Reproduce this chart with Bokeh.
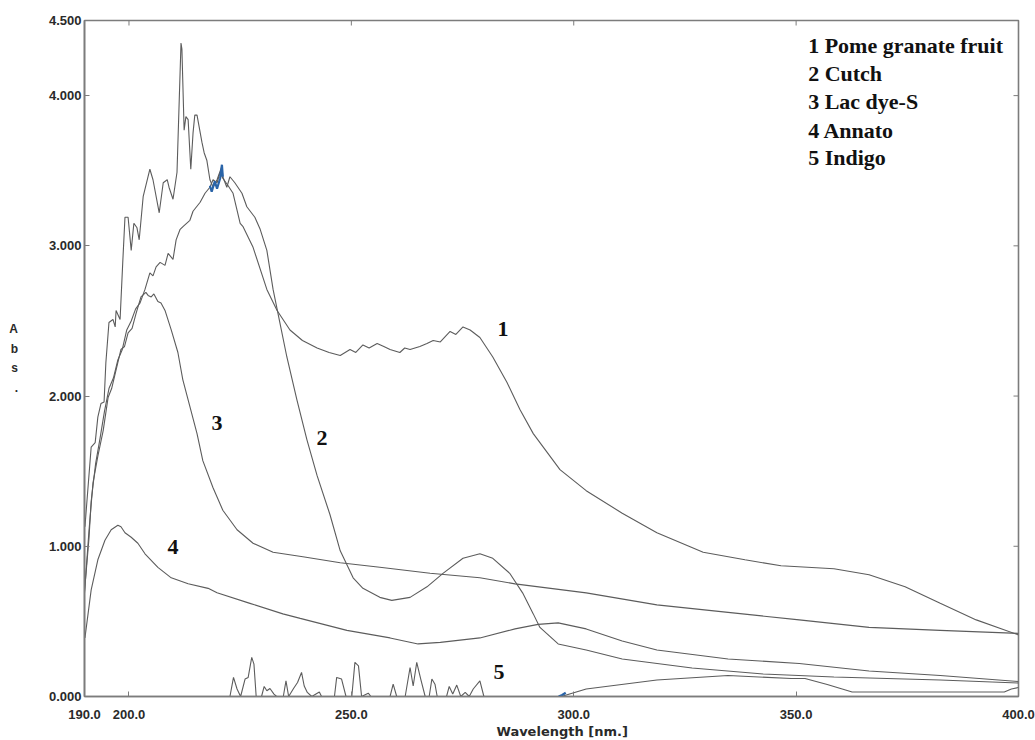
import math
from bokeh.plotting import figure
from bokeh.models import Range1d, FixedTicker, Title
from bokeh.embed import file_html
from bokeh.resources import INLINE
from bokeh.core.properties import value

# ---------------- data ----------------
x_ticks = [190, 200, 250, 300, 350, 400]
x_tick_labels = ["190.0", "200.0", "250.0", "300.0", "350.0", "400.0"]
y_ticks = [0, 1, 2, 3, 4, 4.5]
y_tick_labels = ["0.000", "1.000", "2.000", "3.000", "4.000", "4.500"]

# 1 Pome granate fruit
c1_x = [190.0, 191.0, 191.5, 192.5, 193.5, 194.5, 195.5, 196.5, 197.5, 198.5, 199.5, 200.5, 201.5, 202.5,
        203.6, 204.7, 205.4, 206.1, 207.0, 208.1, 208.8, 209.9, 210.6, 211.5, 212.2, 213.7, 214.4, 216.0,
        217.1, 218.2, 218.9, 219.8, 220.5, 221.1, 222.3, 223.4, 225.0, 225.6, 227.9, 231.0, 233.3, 236.2,
        239.0, 242.3, 245.0, 247.5, 249.7, 251.0, 252.6, 254.0, 255.8, 257.3, 258.7, 260.9, 262.0, 263.2,
        265.4, 267.0, 268.4, 270.0, 272.2, 273.5, 275.1, 276.7, 278.9, 281.8, 285.0, 287.9, 290.9, 296.9,
        302.8, 310.9, 318.7, 329.1, 338.5, 346.6, 358.5, 366.4, 374.5, 382.4, 390.5, 400.0]
c1_y = [0.70, 1.05, 1.30, 1.55, 1.72, 1.90, 2.05, 2.12, 2.24, 2.31, 2.44, 2.50, 2.58, 2.62,
        2.71, 2.82, 2.80, 2.86, 2.89, 2.87, 2.95, 2.91, 3.04, 3.11, 3.13, 3.17, 3.23, 3.29,
        3.35, 3.39, 3.44, 3.42, 3.49, 3.45, 3.40, 3.35, 3.15, 3.13, 2.99, 2.71, 2.57, 2.44,
        2.37, 2.32, 2.29, 2.27, 2.31, 2.29, 2.34, 2.32, 2.35, 2.33, 2.31, 2.29, 2.32, 2.31,
        2.33, 2.35, 2.37, 2.36, 2.43, 2.41, 2.46, 2.44, 2.39, 2.26, 2.09, 1.91, 1.75, 1.51,
        1.37, 1.22, 1.09, 0.96, 0.91, 0.87, 0.85, 0.81, 0.73, 0.62, 0.51, 0.41]

# 2 Cutch
c2_x = [190.1, 191.5, 192.4, 193.0, 193.7, 194.4, 194.8, 195.5, 196.4, 196.9, 197.1, 198.0, 198.6, 199.1,
        199.8, 200.5, 201.1, 201.8, 202.3, 203.2, 204.7, 205.4, 206.8, 207.7, 208.6, 209.0, 209.9, 210.8,
        211.3, 211.7, 211.9, 212.4, 212.8, 213.3, 213.9, 214.4, 214.8, 215.3, 216.4, 216.9, 217.5, 218.2,
        218.9, 219.8, 220.9, 221.1, 222.0, 222.7, 223.8, 225.4, 226.5, 228.3, 229.5, 231.0, 232.4, 233.5,
        235.5, 237.8, 240.0, 242.3, 245.2, 247.5, 250.4, 252.6, 256.4, 259.1, 263.2, 267.0, 270.6, 275.1,
        278.9, 281.8, 285.6, 288.5, 290.9, 292.4, 296.5, 302.8, 310.9, 326.6, 342.6, 358.5, 382.4, 400.0]
c2_y = [1.13, 1.66, 1.69, 1.86, 1.95, 1.96, 2.22, 2.49, 2.51, 2.46, 2.57, 2.51, 2.89, 3.19,
        3.19, 2.97, 3.15, 3.12, 3.04, 3.33, 3.51, 3.44, 3.22, 3.42, 3.44, 3.39, 3.31, 3.49,
        3.97, 4.35, 4.31, 3.77, 3.86, 3.84, 3.51, 3.75, 3.87, 3.87, 3.69, 3.62, 3.57, 3.44,
        3.39, 3.44, 3.53, 3.46, 3.39, 3.46, 3.42, 3.35, 3.26, 3.19, 3.11, 2.97, 2.71, 2.55,
        2.26, 1.97, 1.71, 1.47, 1.21, 0.97, 0.79, 0.72, 0.66, 0.64, 0.66, 0.73, 0.82, 0.92,
        0.95, 0.92, 0.82, 0.69, 0.55, 0.46, 0.35, 0.31, 0.25, 0.19, 0.15, 0.13, 0.11, 0.09]

# 3 Lac dye-S
c3_x = [190.0, 191.0, 191.9, 193.0, 194.2, 195.3, 196.1, 196.9, 198.2, 199.0, 199.8, 200.7, 201.6, 202.7,
        203.8, 204.3, 205.0, 205.6, 206.5, 207.2, 208.1, 209.5, 211.0, 212.1, 213.7, 215.3, 216.6, 218.9,
        221.1, 224.3, 227.9, 232.4, 239.1, 247.5, 256.4, 267.7, 278.9, 286.8, 302.8, 318.7, 334.7, 350.7,
        366.4, 382.4, 400.0]
c3_y = [0.69, 1.10, 1.42, 1.60, 1.77, 1.99, 2.05, 2.15, 2.31, 2.33, 2.42, 2.45, 2.55, 2.66,
        2.69, 2.67, 2.66, 2.68, 2.63, 2.62, 2.57, 2.44, 2.29, 2.11, 1.93, 1.75, 1.57, 1.39,
        1.24, 1.11, 1.02, 0.96, 0.93, 0.89, 0.86, 0.82, 0.79, 0.75, 0.69, 0.61, 0.56, 0.51,
        0.46, 0.44, 0.42]

# 4 Annato
c4_x = [190.1, 191.5, 193.0, 194.6, 196.0, 197.5, 198.2, 199.1, 200.5, 202.0, 203.6, 206.5, 209.5, 213.3,
        217.8, 219.8, 227.2, 234.6, 238.5, 249.0, 258.7, 265.0, 270.0, 278.9, 286.8, 292.0, 296.5, 302.8,
        310.9, 318.7, 334.7, 350.7, 366.4, 382.4, 400.0]
c4_y = [0.39, 0.71, 0.91, 1.04, 1.11, 1.14, 1.13, 1.09, 1.06, 1.02, 0.95, 0.86, 0.79, 0.75,
        0.72, 0.69, 0.62, 0.55, 0.52, 0.44, 0.39, 0.35, 0.36, 0.39, 0.45, 0.48, 0.49, 0.45,
        0.37, 0.31, 0.25, 0.22, 0.17, 0.14, 0.10]

# 5 Indigo
c5_x = [190.0, 222.7, 223.5, 224.3, 225.1, 226.1, 226.8, 227.6, 228.1, 228.6, 229.8, 230.4, 231.0, 231.7,
        232.6, 233.2, 234.7, 235.3, 235.9, 237.0, 237.9, 238.8, 239.4, 240.1, 241.1, 242.8, 243.3, 246.2,
        246.7, 247.8, 248.8, 250.1, 250.8, 251.6, 252.3, 253.8, 254.4, 258.7, 259.4, 260.2, 262.1, 263.2,
        263.9, 264.7, 265.6, 266.6, 267.5, 268.1, 268.8, 269.3, 271.4, 272.0, 272.8, 273.7, 274.6, 275.6,
        276.5, 277.4, 278.9, 279.8, 297.2, 302.8, 318.7, 334.7, 348.9, 352.0, 357.0, 362.6, 396.8, 398.4,
        400.0]
c5_y = [0.0, 0.0, 0.127, 0.05, 0.0, 0.116, 0.127, 0.26, 0.215, 0.0, 0.0, 0.067, 0.038, 0.053,
        0.016, 0.0, 0.0, 0.104, 0.0, 0.053, 0.093, 0.16, 0.07, 0.027, 0.0, 0.03, 0.0, 0.0,
        0.127, 0.116, 0.0, 0.0, 0.227, 0.204, 0.0, 0.022, 0.0, 0.0, 0.082, 0.0, 0.0, 0.193,
        0.07, 0.227, 0.116, 0.0, 0.0, 0.116, 0.082, 0.0, 0.0, 0.067, 0.016, 0.076, 0.0, 0.027,
        0.0, 0.05, 0.104, 0.0, 0.0, 0.05, 0.11, 0.14, 0.12, 0.12, 0.08, 0.03, 0.03, 0.05,
        0.06]

# small blue cursor marks seen in the original trace
mark1_x = [218.2, 218.6, 219.3, 219.8, 220.5, 220.9, 221.1]
mark1_y = [3.40, 3.36, 3.43, 3.38, 3.45, 3.54, 3.46]
mark2_x = [296.6, 297.4, 298.2]
mark2_y = [0.0, 0.01, 0.025]

curves = [(c1_x, c1_y), (c2_x, c2_y), (c3_x, c3_y), (c4_x, c4_y), (c5_x, c5_y)]

curve_label_text = ["1", "2", "3", "4", "5"]
curve_label_x = [284.1, 243.4, 219.8, 209.9, 283.2]
curve_label_y = [2.447, 1.72, 1.82, 0.993, 0.16]

legend_text = ["1 Pome granate fruit", "2 Cutch", "3 Lac dye-S", "4 Annato", "5 Indigo"]
legend_x = [352.7, 352.7, 352.7, 352.7, 352.7]
legend_y = [4.333, 4.147, 3.96, 3.767, 3.587]

y_title = "A\nb\ns\n."
x_title = "Wavelength [nm.]"

# ---------------- figure ----------------
FRAME = "#7c7c7c"
LINE = "#5c5c5c"
TXT = "#2a2a2a"

p = figure(width=1035, height=740, output_backend="svg", toolbar_location=None,
           x_range=Range1d(190, 400), y_range=Range1d(0, 4.5),
           min_border_left=84, min_border_right=17, min_border_top=20, min_border_bottom=44)
p.grid.visible = False
p.outline_line_color = FRAME
p.outline_line_width = 1.6
p.background_fill_color = "white"
p.border_fill_color = "white"

xa = p.xaxis[0]
ya = p.yaxis[0]
xa.ticker = FixedTicker(ticks=x_ticks)
ya.ticker = FixedTicker(ticks=y_ticks)
xa.major_label_overrides = dict(zip(x_ticks, x_tick_labels))
ya.major_label_overrides = dict(zip(y_ticks, y_tick_labels))
for ax in (xa, ya):
    ax.axis_line_color = FRAME
    ax.axis_line_width = 1.6
    ax.major_tick_line_color = FRAME
    ax.major_tick_line_width = 1
    ax.major_tick_in = 5
    ax.major_tick_out = 0
    ax.minor_tick_line_color = None
    ax.major_label_text_font = "Liberation Sans"
    ax.major_label_text_font_style = "bold"
    ax.major_label_text_font_size = "13px"
    ax.major_label_text_color = TXT
xa.major_label_standoff = 13
ya.major_label_standoff = 3

# stacked "Abs." label on the left
ya.axis_label = y_title
ya.axis_label_orientation = "horizontal"
ya.axis_label_standoff = 28
ya.axis_label_text_font = "Liberation Sans"
ya.axis_label_text_font_style = "bold"
ya.axis_label_text_font_size = "12px"
ya.axis_label_text_color = TXT
ya.axis_label_text_line_height = 1.4

# x title, slightly right of centre as in the original
p.add_layout(Title(text=x_title, align="left", offset=412, standoff=0,
                   text_font="DejaVu Sans", text_font_style="bold", text_font_size="13px",
                   text_color=TXT), "below")

# inner tick marks on the top and right edges
p.ray(x=x_ticks, y=[4.5] * len(x_ticks), length=5, length_units="screen",
      angle=-math.pi / 2, line_color=FRAME, line_width=1)
p.ray(x=[400] * len(y_ticks), y=y_ticks, length=5, length_units="screen",
      angle=math.pi, line_color=FRAME, line_width=1)

for cx, cy in curves:
    p.line(cx, cy, line_color=LINE, line_width=1.1)

p.line(mark1_x, mark1_y, line_color="#2a64a8", line_width=2.2)
p.line(mark2_x, mark2_y, line_color="#2a64a8", line_width=2.2)

p.text(x=curve_label_x, y=curve_label_y, text=curve_label_text,
       text_font=value("Liberation Serif"), text_font_style="bold", text_font_size="22px",
       text_color="#111111", text_align="center", text_baseline="middle")

p.text(x=legend_x, y=legend_y, text=legend_text,
       text_font=value("Liberation Serif"), text_font_style="bold", text_font_size="22px",
       text_color="#111111", text_align="left", text_baseline="middle")

open("out.html", "w").write(file_html(p, INLINE))
